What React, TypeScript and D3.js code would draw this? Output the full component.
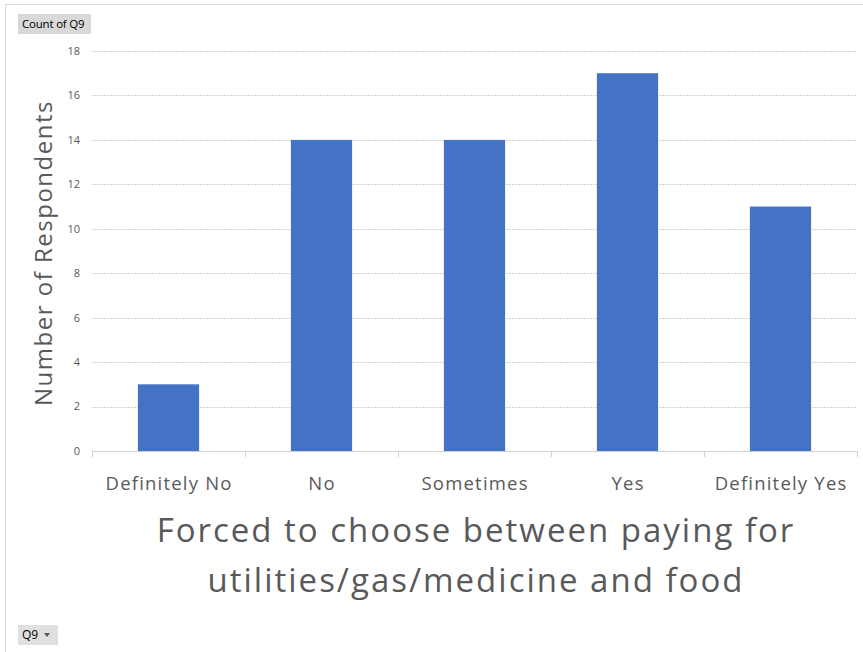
import React from "react";
import * as d3 from "d3";

const categories = ["Definitely No", "No", "Sometimes", "Yes", "Definitely Yes"];
const counts = [3, 14, 14, 17, 11];
const yTicks = [0, 2, 4, 6, 8, 10, 12, 14, 16, 18];
const yTitle = "Number of Respondents";
const xTitleLines = ["Forced to choose between paying for", "utilities/gas/medicine and food"];

const W = 863, H = 652;
const FONT = "'Open Sans', Lato, sans-serif";

export default function App() {
  const x = d3.scaleBand<string>().domain(categories).range([92, 857]).paddingInner(0.6).paddingOuter(0.3);
  const xt = d3.scaleBand<string>().domain(categories).range([92, 857]);
  const y = d3.scaleLinear().domain([0, 18]).range([451, 51]);
  const grey = "#595959";
  return (
    <svg width={W} height={H} style={{ position: "absolute", left: 0, top: 0, background: "#fff" }} fontFamily={FONT}>
      <line x1={5} x2={W} y1={4.5} y2={4.5} stroke="#d9d9d9" />
      <line x1={5.5} x2={5.5} y1={4} y2={H} stroke="#d9d9d9" />
      {yTicks.slice(1).map((t) => (
        <line key={t} x1={92} x2={857} y1={Math.round(y(t)) + 0.5} y2={Math.round(y(t)) + 0.5} stroke="#d0d0d0" strokeDasharray="2,1" />
      ))}
      {categories.map((c, i) => (
        <rect key={c} x={x(c)} y={y(counts[i])} width={x.bandwidth()} height={y(0) - y(counts[i])} fill="#4472C4" />
      ))}
      <line x1={92} x2={857} y1={451.5} y2={451.5} stroke="#d0d0d0" />
      {d3.range(categories.length + 1).map((i) => {
        const xx = Math.round(92 + i * xt.bandwidth()) + 0.5;
        return <line key={i} x1={xx} x2={xx} y1={451} y2={457} stroke="#d0d0d0" />;
      })}
      {yTicks.map((t) => (
        <text key={t} x={80} y={y(t)} dy="0.35em" textAnchor="end" fontSize={11} fill={grey}>{t}</text>
      ))}
      {categories.map((c) => (
        <text key={c} x={(xt(c) as number) + xt.bandwidth() / 2 + 0.6} y={490} textAnchor="middle" fontSize={18.5} letterSpacing={1.2} fill={grey}>{c}</text>
      ))}
      <text transform={`translate(52,253) rotate(-90)`} textAnchor="middle" fontSize={24} letterSpacing={1.5} fill={grey}>{yTitle}</text>
      {xTitleLines.map((l, i) => (
        <text key={i} x={476} y={542 + i * 50} textAnchor="middle" fontSize={33} letterSpacing={2} fill={grey}>{l}</text>
      ))}
      <rect x={18} y={14} width={73} height={20} fill="#d9d9d9" />
      <text x={22} y={28} fontSize={11.5} letterSpacing={-0.2} fill="#000">Count of Q9</text>
      <rect x={18} y={625} width={40} height={20} fill="#e0e0e0" />
      <text x={22} y={639} fontSize={12} fill="#000">Q9</text>
      <path d="M44,633 L50,633 L47,637 Z" fill="#555" />
    </svg>
  );
}
